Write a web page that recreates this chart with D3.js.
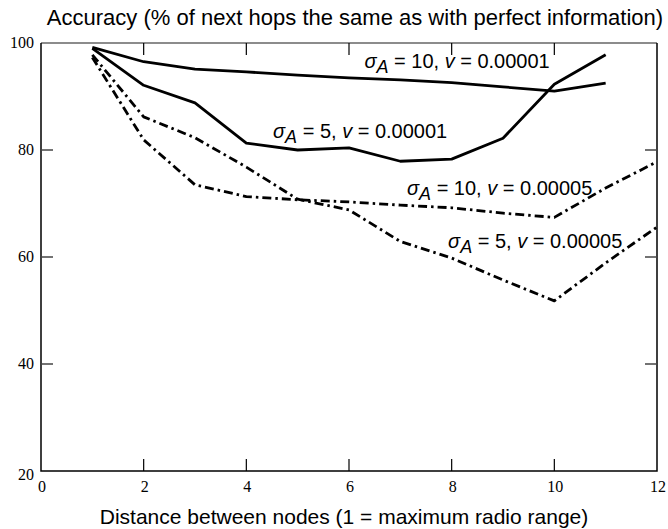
<!DOCTYPE html>
<html>
<head>
<meta charset="utf-8">
<script src="https://cdn.jsdelivr.net/npm/d3@7"></script>
<style>
    body { margin: 0; background: #fff; }
    .tickText { font-family: "Liberation Serif", "Times New Roman", serif; font-size: 16px; fill: #000; }
    .titleText { font-family: "Liberation Sans", Arial, sans-serif; font-size: 21px; fill: #000; }
    .curveLabel { font-family: "Liberation Sans", Arial, sans-serif; font-size: 20px; fill: #000; }
</style>
</head>
<body>
<div id="chart"></div>
<script>
// data
let distances = [1, 2, 3, 4, 5, 6, 7, 8, 9, 10, 11];
let distancesLong = [1, 2, 3, 4, 5, 6, 7, 8, 9, 10, 11, 12];

let acc10slow = [99.2, 96.5, 95.1, 94.6, 94.0, 93.5, 93.1, 92.6, 91.8, 91.0, 92.5];
let acc5slow = [99.0, 92.1, 88.8, 81.3, 80.0, 80.4, 77.9, 78.3, 82.2, 92.3, 97.8];
let acc10fast = [97.3, 81.9, 73.5, 71.3, 70.7, 70.3, 69.7, 69.2, 68.2, 67.4, 72.9, 77.8];
let acc5fast = [97.8, 86.2, 82.3, 76.8, 70.8, 68.8, 62.9, 59.8, 55.7, 51.8, 58.9, 65.6];

let xTicks = [0, 2, 4, 6, 8, 10, 12];
let yTicks = [20, 40, 60, 80, 100];

// label anchors are in data units (left edge, baseline)
let series = [
    {sigma: "10", v: "0.00001", x: distances, y: acc10slow, dashed: false, lx: 6.3, ly: 95.3},
    {sigma: "5", v: "0.00001", x: distances, y: acc5slow, dashed: false, lx: 4.52, ly: 82.2},
    {sigma: "10", v: "0.00005", x: distancesLong, y: acc10fast, dashed: true, lx: 7.13, ly: 71.6},
    {sigma: "5", v: "0.00005", x: distancesLong, y: acc5fast, dashed: true, lx: 7.93, ly: 61.6}
];

let width = 668, height = 529;
let margin = {top: 43, right: 11, bottom: 58, left: 41};

let svg = d3.select("#chart").append("svg")
    .attr("width", width)
    .attr("height", height);

let xScale = d3.scaleLinear()
    .domain([0, 12])
    .range([margin.left, width - margin.right]);

let yScale = d3.scaleLinear()
    .domain([20, 100])
    .range([height - margin.bottom, margin.top]);

let x0 = xScale(0), x1 = xScale(12), y0 = yScale(20), y1 = yScale(100);
let tickLen = 12;

// frame: top edge is grey, the rest black
svg.append("line")
    .attr("x1", x0).attr("x2", x1).attr("y1", y1).attr("y2", y1)
    .attr("stroke", "#666").attr("stroke-width", 1.5);
svg.append("path")
    .attr("d", `M${x0},${y1}V${y0}H${x1}V${y1}`)
    .attr("fill", "none").attr("stroke", "#000").attr("stroke-width", 1.5);

// inward ticks on all four sides
let innerX = xTicks.filter(d => d > 0 && d < 12);
let innerY = yTicks.filter(d => d > 20 && d < 100);

svg.selectAll(".xTickB").data(innerX).enter().append("line")
    .attr("x1", d => xScale(d)).attr("x2", d => xScale(d))
    .attr("y1", y0).attr("y2", y0 - tickLen)
    .attr("stroke", "#000").attr("stroke-width", 1.2);
svg.selectAll(".xTickT").data(innerX).enter().append("line")
    .attr("x1", d => xScale(d)).attr("x2", d => xScale(d))
    .attr("y1", y1).attr("y2", y1 + tickLen)
    .attr("stroke", "#000").attr("stroke-width", 1.2);
svg.selectAll(".yTickL").data(innerY).enter().append("line")
    .attr("x1", x0).attr("x2", x0 + tickLen)
    .attr("y1", d => yScale(d)).attr("y2", d => yScale(d))
    .attr("stroke", "#444").attr("stroke-width", 1.5);
svg.selectAll(".yTickR").data(innerY).enter().append("line")
    .attr("x1", x1).attr("x2", x1 - tickLen)
    .attr("y1", d => yScale(d)).attr("y2", d => yScale(d))
    .attr("stroke", "#444").attr("stroke-width", 1.5);

// tick labels
svg.selectAll(".xLabel").data(xTicks).enter().append("text")
    .attr("class", "tickText")
    .attr("x", d => xScale(d) + 1)
    .attr("y", y0 + 21)
    .attr("text-anchor", "middle")
    .text(d => d);

svg.selectAll(".yLabel").data(yTicks).enter().append("text")
    .attr("class", "tickText")
    .attr("x", x0 - 7)
    .attr("y", d => yScale(d) + (d === 20 ? 9 : 5))
    .attr("text-anchor", "end")
    .text(d => d);

// titles
svg.append("text")
    .attr("class", "titleText")
    .attr("x", 355).attr("y", 25)
    .attr("text-anchor", "middle")
    .style("font-size", "22px")
    .text("Accuracy (% of next hops the same as with perfect information)");

svg.append("text")
    .attr("class", "titleText")
    .attr("x", 344).attr("y", 524)
    .attr("text-anchor", "middle")
    .text("Distance between nodes (1 = maximum radio range)");

// curves
let line = d3.line()
    .x(d => xScale(d[0]))
    .y(d => yScale(d[1]));

series.forEach(s => {
    svg.append("path")
        .datum(s.x.map((d, i) => [d, s.y[i]]))
        .attr("d", line)
        .attr("fill", "none")
        .attr("stroke", "#000")
        .attr("stroke-width", 2.8)
        .attr("stroke-linejoin", "round")
        .attr("stroke-dasharray", s.dashed ? "9,4,2.5,4" : null);

    let label = svg.append("text")
        .attr("class", "curveLabel")
        .attr("x", xScale(s.lx))
        .attr("y", yScale(s.ly));
    label.append("tspan").style("font-style", "italic").text("σ");
    label.append("tspan").style("font-style", "italic").attr("dy", 5).style("font-size", "18px").text("A");
    label.append("tspan").attr("dy", -5).text(" = " + s.sigma + ", ");
    label.append("tspan").style("font-style", "italic").text("v");
    label.append("tspan").text(" = " + s.v);
});
</script>
</body>
</html>
